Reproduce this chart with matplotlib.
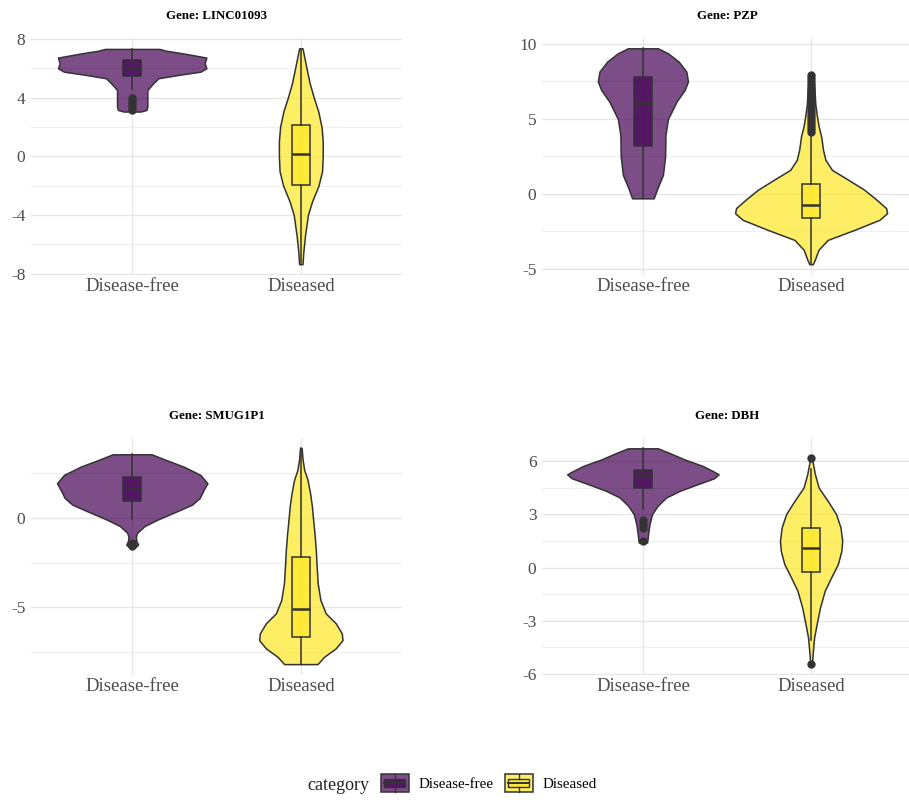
import matplotlib
matplotlib.use('Agg')
import matplotlib.pyplot as plt
import matplotlib.patches as mpatches
from matplotlib.colors import to_rgba
from matplotlib.lines import Line2D
from matplotlib.legend_handler import HandlerBase
import numpy as np

plt.rcParams['font.family'] = ['Liberation Serif', 'DejaVu Serif']

# Groups and colours (viridis ends)
groups = ['Disease-free', 'Diseased']
colors = {'Disease-free': '#440154', 'Diseased': '#FDE725'}
genes = ['LINC01093', 'PZP', 'SMUG1P1', 'DBH']

# Violin outlines: value levels and half-widths (x units)
linc_free_y = [3.05, 3.16, 3.39, 3.95, 4.52, 4.98, 5.32, 5.55, 5.77, 6.0, 6.34, 6.73, 7.02, 7.2, 7.32]
linc_free_w = [0.05, 0.085, 0.09, 0.09, 0.09, 0.125, 0.155, 0.275, 0.405, 0.44, 0.43, 0.44, 0.30, 0.20, 0.162]
linc_dis_y = [-7.36, -6.5, -5.4, -5.0, -4.0, -3.1, -2.0, -1.02, 0.0, 1.02, 2.0, 3.07, 4.0, 5.0, 6.0, 7.36]
linc_dis_w = [0.01, 0.015, 0.025, 0.03, 0.042, 0.066, 0.105, 0.126, 0.13, 0.13, 0.123, 0.103, 0.077, 0.052, 0.034, 0.01]

pzp_free_y = [-0.29, 0.38, 1.27, 2.5, 3.93, 5.0, 6.16, 6.93, 7.5, 8.16, 8.82, 9.38, 9.71]
pzp_free_w = [0.064, 0.086, 0.119, 0.132, 0.134, 0.149, 0.2, 0.248, 0.268, 0.258, 0.213, 0.149, 0.089]
pzp_dis_y = [-4.68, -4.39, -3.72, -3.06, -2.39, -1.72, -1.28, -0.94, -0.39, 0.28, 0.94, 1.61,
             2.28, 2.94, 3.83, 4.5, 5.17, 6.0, 7.0, 7.95]
pzp_dis_w = [0.01, 0.022, 0.044, 0.099, 0.258, 0.407, 0.452, 0.446, 0.39, 0.317, 0.222, 0.124,
             0.085, 0.071, 0.06, 0.045, 0.035, 0.025, 0.02, 0.01]

smug_free_y = [-1.67, -1.5, -1.3, -1.05, -0.83, -0.46, -0.09, 0.37, 0.74, 1.11, 1.57, 1.94, 2.41, 2.87, 3.24, 3.56]
smug_free_w = [0.015, 0.035, 0.025, 0.022, 0.03, 0.073, 0.152, 0.266, 0.355, 0.40, 0.424, 0.446, 0.404, 0.305, 0.201, 0.115]
smug_dis_y = [-8.19, -7.78, -7.31, -6.85, -6.47, -5.9, -5.35, -4.6, -3.66, -2.73, -1.8, -0.86,
              0.0, 0.63, 1.38, 2.13, 2.69, 3.3, 3.9]
smug_dis_w = [0.099, 0.138, 0.207, 0.247, 0.243, 0.207, 0.148, 0.116, 0.1, 0.094, 0.089, 0.081,
              0.072, 0.066, 0.055, 0.04, 0.02, 0.01, 0.005]

dbh_free_y = [1.41, 1.97, 2.44, 3.0, 3.47, 3.94, 4.31, 4.69, 5.03, 5.25, 5.44, 5.72, 6.09, 6.47, 6.71]
dbh_free_w = [0.025, 0.032, 0.039, 0.054, 0.087, 0.138, 0.217, 0.325, 0.424, 0.45, 0.414, 0.355, 0.246, 0.153, 0.089]
dbh_dis_y = [-5.44, -4.8, -3.94, -3.19, -2.25, -1.31, -0.56, 0.19, 0.94, 1.5, 2.25, 3.0, 3.75, 4.5, 5.25, 6.15]
dbh_dis_w = [0.005, 0.01, 0.018, 0.033, 0.053, 0.081, 0.119, 0.159, 0.18, 0.185, 0.175, 0.149, 0.099, 0.045, 0.023, 0.005]

# Box stats: q1, median, q3, lower whisker, upper whisker
linc_box = [(5.5, 6.02, 6.57, 4.6, 7.32), (-1.95, 0.15, 2.1, -7.3, 7.3)]
linc_out = [[4.0, 3.8, 3.55, 3.35, 3.15], []]
pzp_box = [(3.2, 6.04, 7.78, -0.29, 9.71), (-1.6, -0.72, 0.66, -4.68, 4.0)]
pzp_out = [[], [4.1, 4.3, 4.5, 4.7, 4.9, 5.1, 5.3, 5.5, 5.7, 5.9, 6.1, 6.3, 6.5, 6.7, 6.9, 7.1, 7.3, 7.5, 7.7, 7.9]]
smug_box = [(0.93, 1.7, 2.28, -0.05, 3.56), (-6.66, -5.09, -2.17, -8.19, 3.9)]
smug_out = [[-1.4, -1.5, -1.6], []]
dbh_box = [(4.5, 5.19, 5.47, 3.3, 6.71), (-0.24, 1.09, 2.25, -4.1, 5.55)]
dbh_out = [[2.7, 2.45, 2.25, 1.5], [6.15, -5.44]]

profiles = {
    'LINC01093': [(linc_free_y, linc_free_w), (linc_dis_y, linc_dis_w)],
    'PZP': [(pzp_free_y, pzp_free_w), (pzp_dis_y, pzp_dis_w)],
    'SMUG1P1': [(smug_free_y, smug_free_w), (smug_dis_y, smug_dis_w)],
    'DBH': [(dbh_free_y, dbh_free_w), (dbh_dis_y, dbh_dis_w)],
}
boxes = {'LINC01093': (linc_box, linc_out), 'PZP': (pzp_box, pzp_out),
         'SMUG1P1': (smug_box, smug_out), 'DBH': (dbh_box, dbh_out)}
ticks = {'LINC01093': [-8, -4, 0, 4, 8], 'PZP': [-5, 0, 5, 10],
         'SMUG1P1': [-5, 0], 'DBH': [-6, -3, 0, 3, 6]}
minor_ticks = {'LINC01093': [-6, -2, 2, 6], 'PZP': [-2.5, 2.5, 7.5],
               'SMUG1P1': [-7.5, -2.5, 2.5], 'DBH': [-4.5, -1.5, 1.5, 4.5]}
ylims = {'LINC01093': (-8.1, 8.1), 'PZP': (-5.4, 10.43),
         'SMUG1P1': (-8.8, 4.5), 'DBH': (-6.05, 7.32)}

W, H = 909, 802
fig = plt.figure(figsize=(W / 100, H / 100), dpi=100)
# axes boxes in pixels: left, top, right, bottom
boxes_px = {'LINC01093': (31, 37.5, 402, 275), 'PZP': (542, 37.5, 912, 275),
            'SMUG1P1': (31, 437.5, 402, 675), 'DBH': (542, 437.5, 912, 675)}

edge = '#333333'
for gene in genes:
    l, t, r, b = boxes_px[gene]
    ax = fig.add_axes([l / W, 1 - b / H, (r - l) / W, (b - t) / H])
    ax.set_xlim(0.4, 2.6)
    ax.set_ylim(*ylims[gene])

    positions = [1, 2]
    for i, g in enumerate(groups):
        yv, wv = profiles[gene][i]
        yv = np.array(yv)
        wv = np.array(wv)
        stats = [{'coords': yv, 'vals': wv, 'mean': np.nan, 'median': np.nan,
                  'min': yv.min(), 'max': yv.max(), 'quantiles': []}]
        parts = ax.violin(stats, positions=[positions[i]], widths=2 * wv.max(),
                          showmeans=False, showextrema=False, showmedians=False)
        for body in parts['bodies']:
            body.set_alpha(None)
            body.set_facecolor(to_rgba(colors[g], 0.7))
            body.set_edgecolor(edge)
            body.set_linewidth(1.1)
            body.set_zorder(2)

    bstats, outs = boxes[gene]
    for i, g in enumerate(groups):
        q1, med, q3, lo, hi = bstats[i]
        st = [{'q1': q1, 'med': med, 'q3': q3, 'whislo': lo, 'whishi': hi, 'fliers': outs[i]}]
        ax.bxp(st, positions=[positions[i]], widths=0.105, patch_artist=True,
               showcaps=False, manage_ticks=False, zorder=3,
               boxprops=dict(facecolor=to_rgba(colors[g], 0.7), edgecolor=edge, linewidth=1.1),
               medianprops=dict(color=edge, linewidth=1.8),
               whiskerprops=dict(color=edge, linewidth=1.1),
               flierprops=dict(marker='o', markerfacecolor=edge, markeredgecolor=edge, markersize=5))

    ax.set_xticks(positions)
    ax.set_xticklabels(groups, fontsize=13.5, color='#4D4D4D')
    ax.set_yticks(ticks[gene])
    ax.set_yticklabels([str(v) for v in ticks[gene]], fontsize=12.5, color='#4D4D4D')
    ax.set_yticks(minor_ticks[gene], minor=True)
    ax.tick_params(axis='both', which='both', length=0)
    ax.tick_params(axis='y', pad=4)
    ax.tick_params(axis='x', pad=2)
    ax.grid(True, which='major', color='#E6E6E6', linewidth=1.0, zorder=0)
    ax.grid(True, which='minor', axis='y', color='#EEEEEE', linewidth=0.8, zorder=0)
    ax.set_axisbelow(True)
    for s in ax.spines.values():
        s.set_visible(False)
    ax.set_title(f'Gene: {gene}', fontsize=9.3, fontweight='bold', pad=13)


class ViolinBoxKey(HandlerBase):
    def create_artists(self, legend, orig_handle, xdescent, ydescent, width, height, fontsize, trans):
        col = orig_handle.get_facecolor()[:3]
        x0, y0 = -xdescent, -ydescent
        outer = mpatches.Rectangle((x0, y0), width, height, facecolor=(*col, 0.7),
                                   edgecolor=edge, linewidth=1.1, transform=trans)
        inner = mpatches.Rectangle((x0 + 0.12 * width, y0 + 0.25 * height), 0.76 * width, 0.5 * height,
                                   facecolor=(*col, 0.7), edgecolor=edge, linewidth=1.0, transform=trans)
        med = Line2D([x0 + 0.12 * width, x0 + 0.88 * width], [y0 + 0.5 * height] * 2,
                     color=edge, linewidth=1.4, transform=trans)
        wt = Line2D([x0 + 0.5 * width] * 2, [y0 + 0.75 * height, y0 + height], color=edge, linewidth=1.0, transform=trans)
        wb = Line2D([x0 + 0.5 * width] * 2, [y0, y0 + 0.25 * height], color=edge, linewidth=1.0, transform=trans)
        return [outer, inner, med, wt, wb]


handles = [mpatches.Patch(facecolor=colors[g]) for g in groups]
hmap = {h: ViolinBoxKey() for h in handles}
fig.legend(handles, groups, handler_map=hmap, loc='center left',
           bbox_to_anchor=(381 / W, 1 - 783 / H), ncol=2, frameon=False,
           fontsize=10.8, handlelength=1.85, handleheight=1.45, handletextpad=0.65,
           columnspacing=0.75, borderpad=0, borderaxespad=0)
fig.text(338 / W, 1 - 785 / H, 'category', fontsize=13, color='#222222', ha='center', va='center')

fig.savefig('out.png', dpi=100)
